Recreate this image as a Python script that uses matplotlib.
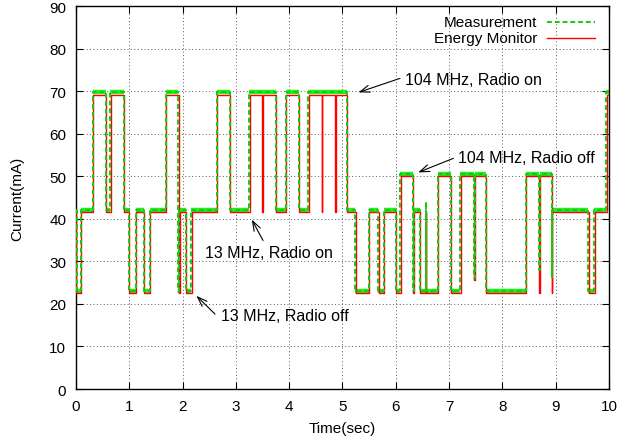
import matplotlib
matplotlib.use('Agg')
import matplotlib.pyplot as plt
import numpy as np

plt.rcParams['font.family'] = ['Liberation Sans', 'DejaVu Sans']

# Energy Monitor (red): step start times and current levels (mA)
em_time = [0.00, 0.01, 0.10, 0.325, 0.57, 0.65, 0.90, 1.00, 1.12, 1.275,
           1.39, 1.695, 1.93, 1.95, 2.07, 2.17, 2.65, 2.89, 3.26, 3.50,
           3.51, 3.75, 3.95, 4.18, 4.37, 4.61, 4.62, 4.86, 4.87, 5.09,
           5.25, 5.50, 5.68, 5.78, 6.01, 6.09, 6.33, 6.34, 6.45, 6.56,
           6.57, 6.80, 7.04, 7.22, 7.47, 7.48, 7.70, 8.45, 8.69, 8.70,
           8.93, 8.94, 9.62, 9.73, 9.96, 10.0]
em_level = [41.5, 22.5, 41.5, 69, 41.5, 69, 41.5, 22.5, 41.5, 22.5,
            41.5, 69, 22.5, 41.5, 22.5, 41.5, 69, 41.5, 69, 41.5,
            69, 41.5, 69, 41.5, 69, 41.5, 69, 41.5, 69, 41.5,
            22.5, 41.5, 22.5, 41.5, 22.5, 50, 22.5, 41.5, 22.5, 41.5,
            22.5, 50, 22.5, 50, 25.5, 50, 22.5, 50, 22.5, 50,
            22.5, 41.5, 22.5, 41.5, 69, 69]

# Measurement (green): step start times and current levels (mA)
ms_time = [0.00, 0.02, 0.09, 0.32, 0.57, 0.64, 0.90, 0.99, 1.12, 1.27,
           1.39, 1.69, 1.92, 1.94, 2.06, 2.16, 2.64, 2.89, 3.25, 3.75,
           3.94, 4.18, 4.36, 5.09, 5.24, 5.50, 5.67, 5.78, 6.00, 6.08,
           6.33, 6.34, 6.45, 6.56, 6.57, 6.79, 7.04, 7.21, 7.47, 7.48,
           7.70, 8.45, 8.69, 8.70, 8.93, 8.94, 9.61, 9.72, 9.95, 10.0]
ms_level = [42, 23, 42, 69.8, 42, 69.8, 42, 23, 42, 23,
            42, 69.8, 23, 42, 23, 42, 69.8, 42, 69.8, 42,
            69.8, 42, 69.8, 42, 23, 42, 23, 42, 23, 50.5,
            23, 42, 23, 44, 23, 50.5, 23, 50.5, 26, 50.5,
            23, 50.5, 28, 50.5, 26, 42, 23, 42, 69.8, 69.8]

x_ticks = list(range(0, 11))
y_ticks = list(range(0, 91, 10))

FS = 11

fig = plt.figure(figsize=(6.38, 4.39), dpi=100)
ax = fig.add_axes([0.119, 0.1116, 0.8355, 0.8724])

# measurement: solid band on the flat parts, dashed on the edges
ax.hlines(np.array(ms_level[:-1]), ms_time[:-1], ms_time[1:],
          color='#22ee22', linewidth=3.2, zorder=2)
ax.step(em_time, em_level, where='post', color='#ff0000', linewidth=1.0, zorder=3)
ax.step(ms_time, ms_level, where='post', color='#11cc11', linewidth=1.4,
        linestyle=(0, (2.5, 1.5)), zorder=4)

ax.set_xlim(0, 10)
ax.set_ylim(0, 90)
ax.set_xticks(x_ticks)
ax.set_yticks(y_ticks)
ax.tick_params(direction='in', top=True, right=True, length=5, labelsize=FS, pad=7)
ax.grid(True, color='0.35', linestyle=(0, (1, 2.5)), linewidth=0.7)
for s in ax.spines.values():
    s.set_linewidth(1.0)
ax.set_xlabel('Time(sec)', fontsize=FS, labelpad=6)
ax.set_ylabel('Current(mA)', fontsize=FS, labelpad=18)

# gnuplot style key (text right aligned, sample on the right)
ax.text(0.865, 0.958, 'Measurement', transform=ax.transAxes, ha='right',
        va='center', fontsize=FS)
ax.plot([0.884, 0.974], [0.958, 0.958], transform=ax.transAxes, color='#11cc11',
        linewidth=1.4, linestyle=(0, (2.5, 1.5)))
ax.text(0.865, 0.916, 'Energy Monitor', transform=ax.transAxes, ha='right',
        va='center', fontsize=FS)
ax.plot([0.884, 0.974], [0.916, 0.916], transform=ax.transAxes, color='#ff0000',
        linewidth=1.0)

arrow = dict(arrowstyle='->,head_length=0.7,head_width=0.25', color='black',
             lw=0.8, shrinkA=0, shrinkB=0)
ax.annotate('', xy=(5.30, 69.7), xytext=(6.08, 73.0), arrowprops=arrow)
ax.text(6.18, 72.8, '104 MHz, Radio on', ha='left', va='center', fontsize=FS + 0.5)
ax.annotate('', xy=(6.42, 50.9), xytext=(7.08, 54.2), arrowprops=arrow)
ax.text(7.17, 54.5, '104 MHz, Radio off', ha='left', va='center', fontsize=FS + 0.5)
ax.annotate('', xy=(3.30, 39.8), xytext=(3.51, 34.9), arrowprops=arrow)
ax.text(2.42, 32.1, '13 MHz, Radio on', ha='left', va='center', fontsize=FS + 0.5)
ax.annotate('', xy=(2.26, 21.9), xytext=(2.61, 17.6), arrowprops=arrow)
ax.text(2.73, 17.2, '13 MHz, Radio off', ha='left', va='center', fontsize=FS + 0.5)

plt.savefig('out.png', dpi=100)
plt.close(fig)
